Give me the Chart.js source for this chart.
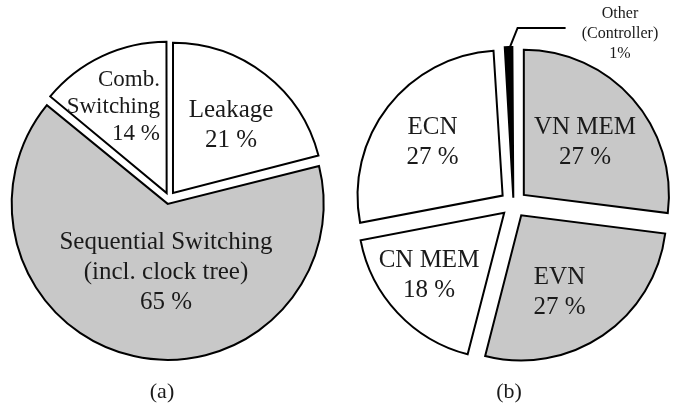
<!DOCTYPE html>
<html>
<head>
<meta charset="utf-8">
<script src="https://cdn.jsdelivr.net/npm/chart.js@4/dist/chart.umd.min.js"></script>
<style>
  html, body { margin: 0; padding: 0; background: #fff; }
  #wrap { position: relative; width: 689px; height: 408px; overflow: hidden; }
  .box { position: absolute; top: 0; height: 408px; }
  #boxA { left: 0; width: 340px; }
  #boxB { left: 340px; width: 349px; }
  .cap { position: absolute; top: 378px; font: 22px "Liberation Serif", serif; color: #1a1a1a; transform: translateX(-50%); }
</style>
</head>
<body>
<div id="wrap">
  <div class="box" id="boxA"><canvas id="pieA"></canvas></div>
  <div class="box" id="boxB"><canvas id="pieB"></canvas></div>
  <div class="cap" style="left:162px">(a)</div>
  <div class="cap" style="left:509px">(b)</div>
</div>
<script>
// ── power breakdown pies ──────────────────────────
var GREY = '#c8c8c8';

// (a) by switching type
var catsA   = ['Leakage', 'Sequential Switching (incl. clock tree)', 'Comb. Switching'];
var valsA   = [21, 65, 14];
var linesA  = [['Leakage', '21 %'], ['Sequential Switching', '(incl. clock tree)', '65 %'], ['Comb.', 'Switching', '14 %']];

// (b) by block
var catsB   = ['VN MEM', 'EVN', 'CN MEM', 'ECN', 'Other (Controller)'];
var valsB   = [27, 27, 18, 27, 1];
var linesB  = [['VN MEM', '27 %'], ['EVN', '27 %'], ['CN MEM', '18 %'], ['ECN', '27 %'], ['Other', '(Controller)', '1%']];

var FONT = '"Liberation Serif", serif';

// label anchors, relative to pie centre: [dx, dy of first line, align, size, line height]
var labelPosA = [[62, -88, 'center', 25, 30], [-3, 44, 'center', 25, 30], [-9, -118, 'right', 23, 27]];
var labelPosB = [[71.5, -77, 'center', 25, 30], [46, 73, 'center', 25, 30], [-84.5, 56, 'center', 25, 30],
                 [-81, -77, 'center', 25, 30], [106.5, -190, 'center', 16, 20]];

// how far chart.js actually pushes an arc out for a given offset
function arcShift(a) {
  var off = (a.options.offset || 0) / 4;
  var circ = a.endAngle - a.startAngle;
  return off * (2 - Math.sin(Math.min(Math.PI, circ)));
}

var sliceLabels = {
  id: 'sliceLabels',
  afterDatasetsDraw: function (chart, args, opts) {
    var ctx = chart.ctx;
    var arcs = chart.getDatasetMeta(0).data;
    var cx = arcs[0].x, cy = arcs[0].y;
    ctx.save();
    ctx.fillStyle = '#1a1a1a';
    ctx.textBaseline = 'middle';
    opts.lines.forEach(function (lines, i) {
      var p = opts.pos[i];
      ctx.font = p[3] + 'px ' + FONT;
      ctx.textAlign = p[2];
      lines.forEach(function (t, k) { ctx.fillText(t, cx + p[0], cy + p[1] + k * p[4]); });
    });
    // leader line from the thin slice out to its label
    if (opts.leader != null) {
      var a = arcs[opts.leader];
      var mid = (a.startAngle + a.endAngle) / 2;
      var r = a.outerRadius + arcShift(a) - 1;
      var x0 = cx + Math.cos(mid) * r + 1, y0 = cy + Math.sin(mid) * r;
      ctx.strokeStyle = '#000';
      ctx.lineWidth = 2;
      ctx.beginPath();
      ctx.moveTo(x0, y0);
      ctx.lineTo(x0 + 8, y0 - 20);
      ctx.lineTo(x0 + 56, y0 - 20);
      ctx.stroke();
    }
    ctx.restore();
  }
};

function makePie(id, labels, values, colors, offsets, radius, padding, lines, pos, leader) {
  return new Chart(document.getElementById(id), {
    type: 'pie',
    data: {
      labels: labels,
      datasets: [{
        data: values,
        backgroundColor: colors,
        borderColor: '#000',
        borderWidth: 2,
        borderJoinStyle: 'miter',
        offset: offsets,
      }],
    },
    options: {
      responsive: true,
      maintainAspectRatio: false,
      animation: false,
      events: [],
      radius: radius,
      layout: { padding: padding },
      plugins: {
        legend: { display: false },
        tooltip: { enabled: false },
        sliceLabels: { lines: lines, pos: pos, leader: leader },
      },
    },
    plugins: [sliceLabels],
  });
}

makePie('pieA', catsA, valsA, ['#fff', GREY, '#fff'], [26, 24, 22], 150,
  { top: 0, bottom: 12, left: 0, right: 2 }, linesA, labelPosA, null);

makePie('pieB', catsB, valsB, [GREY, GREY, '#fff', '#fff', '#000'], [55, 55, 51, 55, 25], 145,
  { top: 0, bottom: 0, left: 0, right: 2 }, linesB, labelPosB, 4);
</script>
</body>
</html>
